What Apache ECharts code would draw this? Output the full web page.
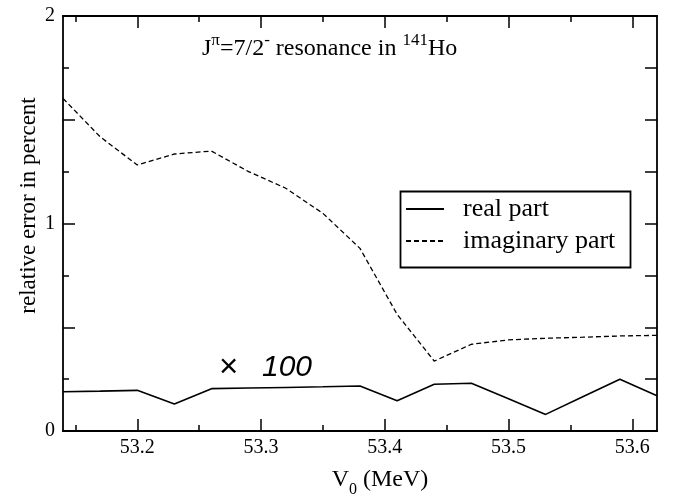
<!DOCTYPE html>
<html>
<head>
<meta charset="utf-8">
<script src="https://cdn.jsdelivr.net/npm/echarts@6/dist/echarts.min.js"></script>
<style>
html,body{margin:0;padding:0;background:#fff;}
#chart{width:677px;height:497px;}
</style>
</head>
<body>
<div id="chart"></div>
<script>
// ---- data ----
var v0 = [53.14, 53.17, 53.20, 53.23, 53.26, 53.29, 53.32, 53.35, 53.38, 53.41, 53.44, 53.47, 53.50, 53.53, 53.56, 53.59, 53.62];
var realPart = [0.189, 0.192, 0.196, 0.130, 0.204, 0.207, 0.210, 0.213, 0.217, 0.146, 0.225, 0.230, 0.155, 0.080, 0.165, 0.249, 0.170];
var imagPart = [1.603, 1.418, 1.282, 1.335, 1.349, 1.250, 1.170, 1.049, 0.880, 0.562, 0.337, 0.418, 0.439, 0.447, 0.452, 0.458, 0.461];
var xMajorTicks = [53.2, 53.3, 53.4, 53.5, 53.6];
var xMinorTicks = [53.15, 53.25, 53.35, 53.45, 53.55];
var seriesNames = ['real part', 'imaginary part'];

var SERIF = "'Liberation Serif','Times New Roman',serif";
var chart = echarts.init(document.getElementById('chart'));

function pairs(xs, ys) { return xs.map(function (x, i) { return [x, ys[i]]; }); }

var frameLine = { show: true, lineStyle: { color: '#000', width: 1.8 } };
function xAxisDef(pos, ticks, len, labels) {
  return {
    type: 'value', position: pos, min: 53.14, max: 53.62,
    axisLine: frameLine,
    axisTick: { show: true, inside: true, length: len, customValues: ticks, lineStyle: { color: '#000', width: 1.5 } },
    axisLabel: labels ? { show: true, customValues: ticks, margin: 7, color: '#000', fontFamily: SERIF, fontSize: 20,
      formatter: function (v) { return v.toFixed(1); } } : { show: false },
    splitLine: { show: false }
  };
}

var option = {
  animation: false,
  backgroundColor: '#fff',
  grid: { left: 63, right: 20, top: 16, bottom: 66, outerBoundsMode: 'none', containLabel: false },
  xAxis: [
    Object.assign(xAxisDef('bottom', xMajorTicks, 12, true), {
      name: '{v|V}{s|0}{v| (MeV)}', nameLocation: 'middle', nameGap: 33,
      nameTextStyle: { padding: [0, 0, 0, 40], rich: {
        v: { fontFamily: SERIF, fontSize: 24, color: '#000', verticalAlign: 'bottom', lineHeight: 28 },
        s: { fontFamily: SERIF, fontSize: 16, color: '#000', verticalAlign: 'bottom', lineHeight: 28, padding: [0, 0, -6, 0] }
      } }
    }),
    xAxisDef('bottom', xMinorTicks, 6, false),
    xAxisDef('top', xMajorTicks, 12, false),
    xAxisDef('top', xMinorTicks, 6, false)
  ],
  yAxis: [
    {
      type: 'value', position: 'left', min: 0, max: 2, interval: 0.5,
      axisLine: frameLine,
      axisTick: { show: true, inside: true, length: 12, lineStyle: { color: '#000', width: 1.5 } },
      minorTick: { show: true, splitNumber: 2, length: 6, lineStyle: { color: '#000', width: 1.5 } },
      axisLabel: { margin: 8, color: '#000', fontFamily: SERIF, fontSize: 20,
        formatter: function (v) { return (Math.abs(v - Math.round(v)) < 1e-9) ? String(Math.round(v)) : ''; } },
      splitLine: { show: false },
      name: 'relative error in percent', nameLocation: 'middle', nameGap: 23, nameMoveOverlap: false,
      nameTextStyle: { fontFamily: SERIF, fontSize: 23, color: '#000', padding: [0, 0, 0, 36] }
    },
    {
      type: 'value', position: 'right', min: 0, max: 2, interval: 0.25,
      axisLine: frameLine,
      axisTick: { show: true, inside: true, length: 12, lineStyle: { color: '#000', width: 1.5 } },
      axisLabel: { show: false },
      splitLine: { show: false }
    }
  ],
  legend: {
    left: 405, top: 196, orient: 'vertical', itemWidth: 38, itemHeight: 14, itemGap: 6,
    padding: 0,
    itemStyle: { opacity: 0 },
    textStyle: { fontFamily: SERIF, fontSize: 26, color: '#000', padding: [0, 0, 0, 14] },
    data: seriesNames
  },
  graphic: [
    { type: 'rect', left: 398, top: 189, shape: { width: 230, height: 76 },
      style: { fill: 'none', stroke: '#000', lineWidth: 1.8 }, z: 10 },
    { type: 'text', left: 202, top: 32, z: 10,
      style: {
        text: '{a|J}{p|π}{a|=7/2}{p|-}{a| resonance in }{p|141}{a|Ho}',
        rich: {
          a: { fontFamily: SERIF, fontSize: 24, fill: '#000', verticalAlign: 'bottom', lineHeight: 29 },
          p: { fontFamily: SERIF, fontSize: 17, fill: '#000', verticalAlign: 'top', lineHeight: 29 }
        }
      } },
    { type: 'text', left: 219, top: 351, z: 10,
      style: { text: '×', fontFamily: "'Liberation Sans',Arial,sans-serif", fontSize: 33, fill: '#000' } },
    { type: 'text', left: 262, top: 353, z: 10,
      style: { text: '100', fontFamily: "'Liberation Sans',Arial,sans-serif", fontStyle: 'italic', fontSize: 30, fill: '#000' } }
  ],
  series: [
    { name: seriesNames[0], type: 'line', xAxisIndex: 0, yAxisIndex: 0, data: pairs(v0, realPart),
      showSymbol: false, symbol: 'none', lineStyle: { color: '#000', width: 1.6, type: 'solid' }, itemStyle: { color: '#000' } },
    { name: seriesNames[1], type: 'line', xAxisIndex: 0, yAxisIndex: 0, data: pairs(v0, imagPart),
      showSymbol: false, symbol: 'none', lineStyle: { color: '#000', width: 1.3, type: [5, 3] }, itemStyle: { color: '#000' } }
  ]
};
chart.setOption(option);
</script>
</body>
</html>
